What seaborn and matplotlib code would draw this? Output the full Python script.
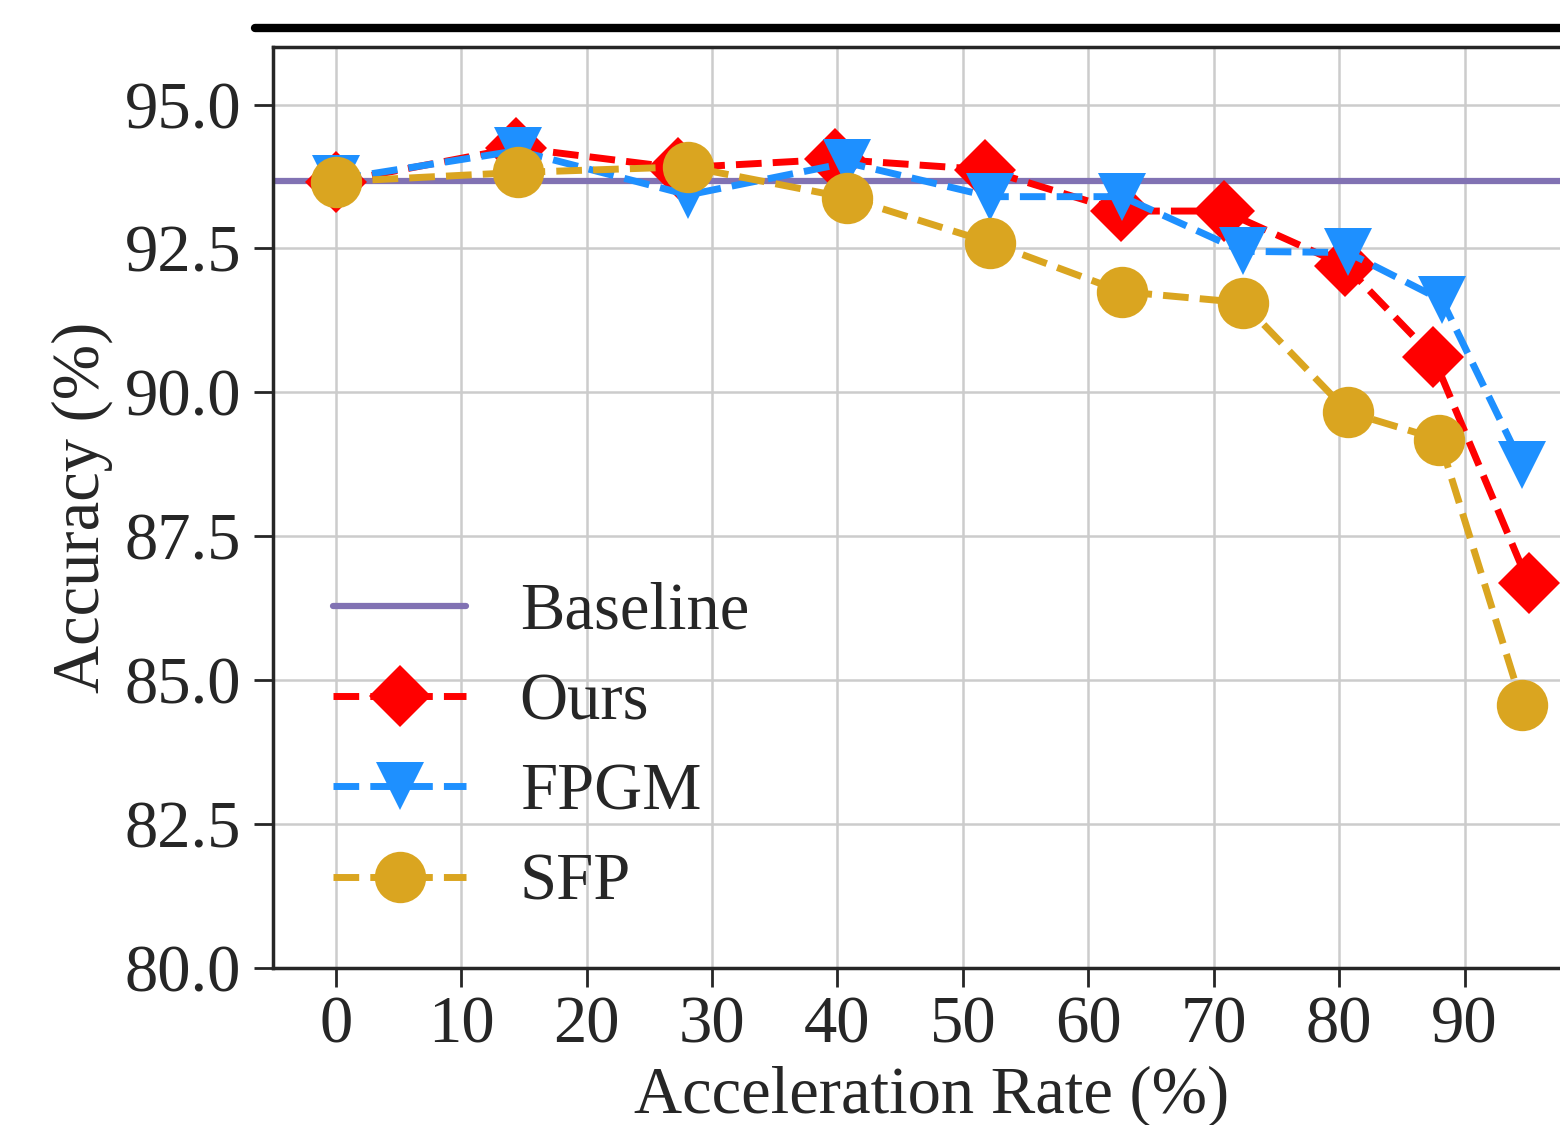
import matplotlib
matplotlib.use('Agg')
import matplotlib.pyplot as plt
from matplotlib.lines import Line2D
import seaborn as sns

# values
baseline_acc = 93.68

ours_rate = [0, 14.4, 27.3, 39.8, 51.8, 62.6, 70.8, 80.5, 87.5, 95.1]
ours_acc = [93.65, 94.25, 93.9, 94.05, 93.87, 93.15, 93.15, 92.2, 90.62, 86.69]

fpgm_rate = [0, 14.5, 28.1, 40.8, 52.2, 62.7, 72.3, 80.7, 88.2, 94.6]
fpgm_acc = [93.7, 94.2, 93.43, 93.99, 93.4, 93.4, 92.45, 92.43, 91.6, 88.73]

sfp_rate = [0, 14.5, 28.1, 40.8, 52.2, 62.7, 72.3, 80.7, 88.0, 94.6]
sfp_acc = [93.66, 93.82, 93.92, 93.38, 92.6, 91.75, 91.56, 89.66, 89.18, 84.57]

x_ticks = [0, 10, 20, 30, 40, 50, 60, 70, 80, 90]
y_ticks = [80.0, 82.5, 85.0, 87.5, 90.0, 92.5, 95.0]

sns.set_theme(style='ticks', rc={
    'axes.edgecolor': '.15',
    'axes.linewidth': 2.5,
    'xtick.major.size': 14,
    'ytick.major.size': 14,
    'xtick.major.width': 2,
    'ytick.major.width': 2,
    'grid.color': '.8',
    'grid.linewidth': 1.8,
})
plt.rcParams['font.family'] = ['Liberation Serif', 'DejaVu Serif']
plt.rcParams['font.size'] = 48

fig = plt.figure(figsize=(15.6, 11.25), dpi=100)
ax = fig.add_axes([273 / 1560, 157 / 1125, (1590 - 273) / 1560, 921 / 1125])

ax.axhline(baseline_acc, color='#8172b3', lw=4.5, label='Baseline', zorder=2)

sns.lineplot(x=ours_rate, y=ours_acc, ax=ax, color='red', linestyle='--', lw=5,
             marker='D', markersize=32, markeredgecolor='red', markeredgewidth=0,
             label='Ours', zorder=3)
sns.lineplot(x=fpgm_rate, y=fpgm_acc, ax=ax, color='#1e90ff', linestyle='--', lw=5,
             marker='v', markersize=35, markeredgecolor='#1e90ff', markeredgewidth=0,
             label='FPGM', zorder=4)
sns.lineplot(x=sfp_rate, y=sfp_acc, ax=ax, color='#daa520', linestyle='--', lw=5,
             marker='o', markersize=37, markeredgecolor='#daa520', markeredgewidth=0,
             label='SFP', zorder=5)

ax.set_xlim(-5, 100)
ax.set_ylim(80, 96)
ax.set_xticks(x_ticks)
ax.set_yticks(y_ticks)
ax.set_yticklabels([f'{v:.1f}' for v in y_ticks])
ax.tick_params(axis='both', labelsize=48, colors='.15')
ax.tick_params(axis='x', pad=6)
ax.tick_params(axis='y', pad=9)
ax.grid(True)
ax.set_axisbelow(True)

ax.set_xlabel('Acceleration Rate (%)', fontsize=48, color='.15', labelpad=6)
ax.set_ylabel('Accuracy (%)', fontsize=48, color='.15', labelpad=8)

ax.legend(loc='lower left', bbox_to_anchor=(0, -0.0065), frameon=False,
          fontsize=48, handlelength=2.0, handletextpad=0.8, labelspacing=0.44,
          numpoints=1)

# thick rule above the panel
fig.add_artist(Line2D([255 / 1560, 1.0], [1 - 28 / 1125, 1 - 28 / 1125],
                      color='black', lw=6))

fig.savefig('out.png', dpi=100)
